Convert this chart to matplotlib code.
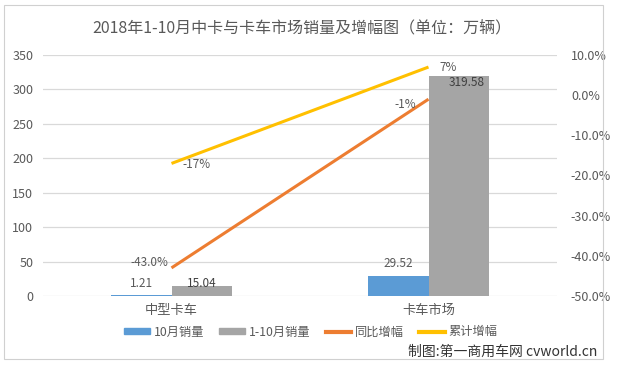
import numpy as np
import matplotlib.pyplot as plt
from matplotlib.patches import Rectangle, Patch
from matplotlib.lines import Line2D
from matplotlib.ticker import FuncFormatter

plt.rcParams['font.family'] = ['Noto Sans CJK SC', 'DejaVu Sans']

# data
categories = ['中型卡车', '卡车市场']
sales_oct = [1.21, 29.52]        # 10月销量 (万辆)
sales_ytd = [15.04, 319.58]      # 1-10月销量 (万辆)
growth_yoy = [-43.0, -1.0]       # 同比增幅 (%)
growth_cum = [-17.0, 7.0]        # 累计增幅 (%)
yoy_labels = ['-43.0%', '-1%']
cum_labels = ['-17%', '7%']
series_names = ['10月销量', '1-10月销量', '同比增幅', '累计增幅']

BLUE = '#5B9BD5'
GRAY = '#A5A5A5'
ORANGE = '#ED7D31'
YELLOW = '#FFC000'
TXT = '#595959'

W, H = 617, 365
fig = plt.figure(figsize=(W / 100, H / 100), dpi=100)
ax = fig.add_axes([43 / W, 1 - 296 / H, 514 / W, 241 / H])

x = np.arange(len(categories))
bw = 0.237
b1 = ax.bar(x - bw / 2, sales_oct, bw, color=BLUE, zorder=2)
b2 = ax.bar(x + bw / 2, sales_ytd, bw, color=GRAY, zorder=2)

ax.set_xlim(-0.5, 1.5)
ax.set_ylim(0, 350)
ax.set_yticks(np.arange(0, 351, 50))
ax.set_xticks(x, categories)
ax.grid(axis='y', color='#D9D9D9', lw=0.9)
ax.set_axisbelow(True)
for s in ax.spines.values():
    s.set_visible(False)
ax.tick_params(axis='y', length=0, colors=TXT, labelsize=9, pad=7)
ax.tick_params(axis='x', length=0, colors=TXT, labelsize=9.5, pad=6)

# bar value labels (px offsets converted to points)
px = 0.72
for rect, v in zip(b1, sales_oct):
    ax.annotate(f'{v:.2f}', (rect.get_x() + rect.get_width() / 2, v),
                xytext=(0, 12 * px), textcoords='offset points',
                ha='center', va='center', fontsize=8.5, color=TXT)
for rect, v in zip(b2, sales_ytd):
    if v > 100:
        off = (8 * px, -7 * px)
    else:
        off = (0, 2 * px)
    ax.annotate(f'{v:.2f}', (rect.get_x() + rect.get_width() / 2, v),
                xytext=off, textcoords='offset points',
                ha='center', va='center', fontsize=8.5, color='#404040')

ax2 = ax.twinx()
ax2.set_ylim(-50, 10)
ax2.set_yticks(np.arange(-50, 11, 10))
ax2.yaxis.set_major_formatter(FuncFormatter(lambda v, p: f'{v:.1f}%'))
for s in ax2.spines.values():
    s.set_visible(False)
ax2.tick_params(axis='y', length=0, colors=TXT, labelsize=9, pad=10)

ax2.plot(x, growth_yoy, color=ORANGE, lw=2.2, solid_capstyle='butt')
ax2.plot(x, growth_cum, color=YELLOW, lw=2.2, solid_capstyle='butt')

yoy_style = [('right', -3, 5), ('right', -12, -5)]
cum_style = [('left', 11, -1), ('left', 11, 0)]
for xi, v, lab, (ha, dx, dy) in zip(x, growth_yoy, yoy_labels, yoy_style):
    ax2.annotate(lab, (xi, v), xytext=(dx * px, dy * px), textcoords='offset points',
                 ha=ha, va='center', fontsize=8.5, color=TXT)
for xi, v, lab, (ha, dx, dy) in zip(x, growth_cum, cum_labels, cum_style):
    ax2.annotate(lab, (xi, v), xytext=(dx * px, dy * px), textcoords='offset points',
                 ha=ha, va='center', fontsize=8.5, color=TXT)

fig.text(302 / W, 1 - 28 / H, '2018年1-10月中卡与卡车市场销量及增幅图（单位：万辆）',
         ha='center', va='center', fontsize=11.5, color=TXT)

handles = [Patch(color=BLUE), Patch(color=GRAY),
           Line2D([], [], color=ORANGE, lw=3), Line2D([], [], color=YELLOW, lw=3)]
leg = fig.legend(handles, series_names, loc='center', bbox_to_anchor=(311 / W, 1 - 332 / H),
                 ncol=4, frameon=False, fontsize=8.8, handlelength=2.1, handleheight=0.45,
                 columnspacing=1.25, handletextpad=0.3)
for t in leg.get_texts():
    t.set_color(TXT)

fig.text(597 / W, 1 - 352 / H, '制图:第一商用车网 cvworld.cn', ha='right', va='center',
         fontsize=10, color='#333333')

fig.add_artist(Rectangle((4 / W, 1 - 359 / H), 599 / W, 354 / H, transform=fig.transFigure,
                         fill=False, ec='#D0D0D0', lw=0.8))

fig.savefig('out.png', dpi=100)
